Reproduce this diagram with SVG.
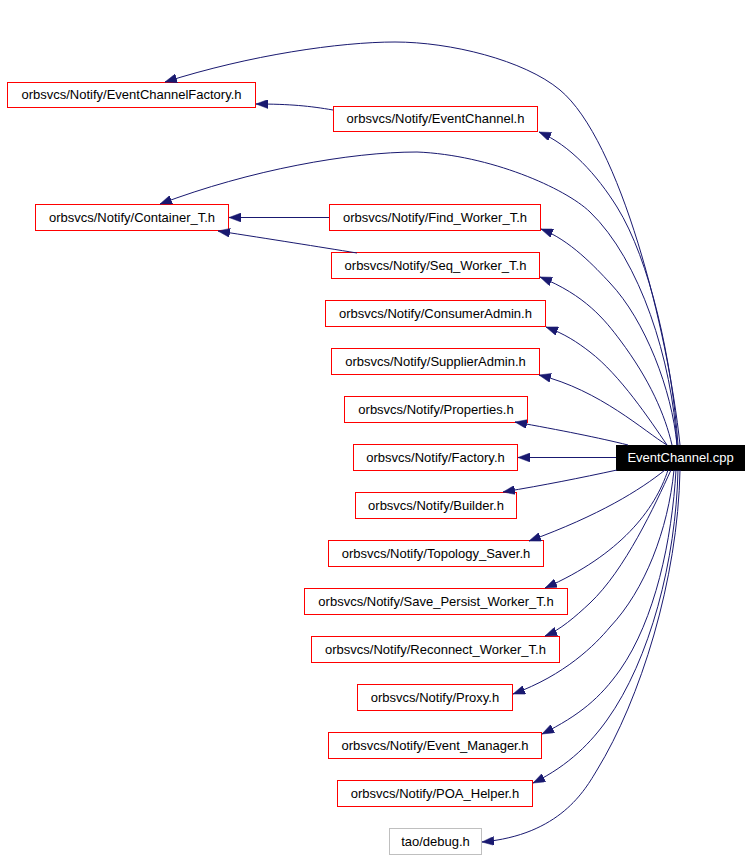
<svg xmlns="http://www.w3.org/2000/svg" width="752" height="859" viewBox="0 0 752 859">
<style>
  .n rect { fill: #ffffff; stroke: #ff0000; stroke-width: 1; }
  .n.ext rect { stroke: #bfbfbf; }
  .n.root rect { fill: #000000; stroke: #000000; }
  .n text { font-family: "Liberation Sans", Arial, Helvetica, sans-serif; font-size: 13px; text-anchor: middle; fill: #000000; }
  .n.root text { fill: #ffffff; }
  #edges path { fill: none; stroke: #191970; stroke-width: 1; marker-end: url(#arrow); }
</style>
<defs>
  <marker id="arrow" viewBox="0 0 12 9" refX="12" refY="4.5" markerWidth="12" markerHeight="9" markerUnits="userSpaceOnUse" orient="auto">
    <path d="M0,0 L12,4.5 L0,9 z" fill="#191970" stroke="#191970" stroke-width="0.5"/>
  </marker>
</defs>
<rect x="0" y="0" width="752" height="859" fill="#ffffff"/>

<g id="node-EventChannelFactory" class="n"><rect x="7.5" y="82.5" width="248" height="25"/><text x="131.5" y="99">orbsvcs/Notify/EventChannelFactory.h</text></g>
<g id="node-EventChannel_h" class="n"><rect x="333.5" y="106.5" width="204" height="25"/><text x="435.5" y="123">orbsvcs/Notify/EventChannel.h</text></g>
<g id="node-Container_T" class="n"><rect x="35.5" y="204.5" width="193" height="26"/><text x="132" y="222">orbsvcs/Notify/Container_T.h</text></g>
<g id="node-Find_Worker_T" class="n"><rect x="329.5" y="204.5" width="211" height="26"/><text x="435" y="222">orbsvcs/Notify/Find_Worker_T.h</text></g>
<g id="node-Seq_Worker_T" class="n"><rect x="331.5" y="252.5" width="208" height="26"/><text x="435.5" y="270">orbsvcs/Notify/Seq_Worker_T.h</text></g>
<g id="node-ConsumerAdmin" class="n"><rect x="325.5" y="300.5" width="220" height="26"/><text x="435.5" y="318">orbsvcs/Notify/ConsumerAdmin.h</text></g>
<g id="node-SupplierAdmin" class="n"><rect x="331.5" y="348.5" width="208" height="26"/><text x="435.5" y="366">orbsvcs/Notify/SupplierAdmin.h</text></g>
<g id="node-Properties" class="n"><rect x="344.5" y="396.5" width="183" height="26"/><text x="436" y="414">orbsvcs/Notify/Properties.h</text></g>
<g id="node-Factory" class="n"><rect x="353.5" y="444.5" width="164" height="26"/><text x="435.5" y="462">orbsvcs/Notify/Factory.h</text></g>
<g id="node-EventChannel_cpp" class="n root"><rect x="616.5" y="445.5" width="128" height="25"/><text x="680.5" y="462">EventChannel.cpp</text></g>
<g id="node-Builder" class="n"><rect x="355.5" y="492.5" width="161" height="26"/><text x="436" y="510">orbsvcs/Notify/Builder.h</text></g>
<g id="node-Topology_Saver" class="n"><rect x="328.5" y="540.5" width="215" height="26"/><text x="436" y="558">orbsvcs/Notify/Topology_Saver.h</text></g>
<g id="node-Save_Persist_Worker_T" class="n"><rect x="304.5" y="588.5" width="263" height="26"/><text x="436" y="606">orbsvcs/Notify/Save_Persist_Worker_T.h</text></g>
<g id="node-Reconnect_Worker_T" class="n"><rect x="311.5" y="636.5" width="248" height="26"/><text x="435.5" y="654">orbsvcs/Notify/Reconnect_Worker_T.h</text></g>
<g id="node-Proxy" class="n"><rect x="357.5" y="684.5" width="155" height="26"/><text x="435" y="702">orbsvcs/Notify/Proxy.h</text></g>
<g id="node-Event_Manager" class="n"><rect x="328.5" y="732.5" width="213" height="26"/><text x="435" y="750">orbsvcs/Notify/Event_Manager.h</text></g>
<g id="node-POA_Helper" class="n"><rect x="337.5" y="780.5" width="195" height="26"/><text x="435" y="798">orbsvcs/Notify/POA_Helper.h</text></g>
<g id="node-tao_debug" class="n ext"><rect x="389.5" y="828.5" width="92" height="26"/><text x="435.5" y="846">tao/debug.h</text></g>

<g id="edges">
  <path d="M 680,445 C 668,330 620,140 560,90 C 524,60 450,42 395,42 C 340,42 250,55 165,82"/>
  <path d="M 333,110 C 310,106 290,104 256,104"/>
  <path d="M 678,445 C 672,360 650,260 617,207 C 597,175 570,145 539,132"/>
  <path d="M 677,445 C 672,360 640,260 590,212 C 565,188 490,155 417,152 C 350,152 250,170 160,204"/>
  <path d="M 329,217.5 L 229,217.5"/>
  <path d="M 357,253 C 320,247 270,239 218,231"/>
  <path d="M 677,445 C 672,390 645,320 610,283 C 595,267 570,240 541,229"/>
  <path d="M 672,445 C 665,415 650,380 620,340 C 605,320 585,295 540,277"/>
  <path d="M 667,445 C 650,420 620,375 590,352 C 577,342 565,334 546,327"/>
  <path d="M 667,445 C 645,432 600,390 539,375"/>
  <path d="M 628,445 C 600,438 560,430 515,422"/>
  <path d="M 616,457.5 L 518,457.5"/>
  <path d="M 617,470 C 580,478 545,485 503,492"/>
  <path d="M 665,470 C 640,490 600,515 529,541"/>
  <path d="M 668,470 C 655,510 620,555 545,588"/>
  <path d="M 671,470 C 655,505 625,570 590,603 C 575,617 560,630 545,636"/>
  <path d="M 674,470 C 668,530 645,590 610,627 C 595,645 565,675 513,694"/>
  <path d="M 676,470 C 672,540 655,620 620,670 C 600,698 580,715 542,734"/>
  <path d="M 678,470 C 676,560 650,660 607,720 C 592,741 570,765 533,783"/>
  <path d="M 680,470 C 678,580 640,700 597,770 C 585,790 560,835 482,842"/>
</g>
</svg>
